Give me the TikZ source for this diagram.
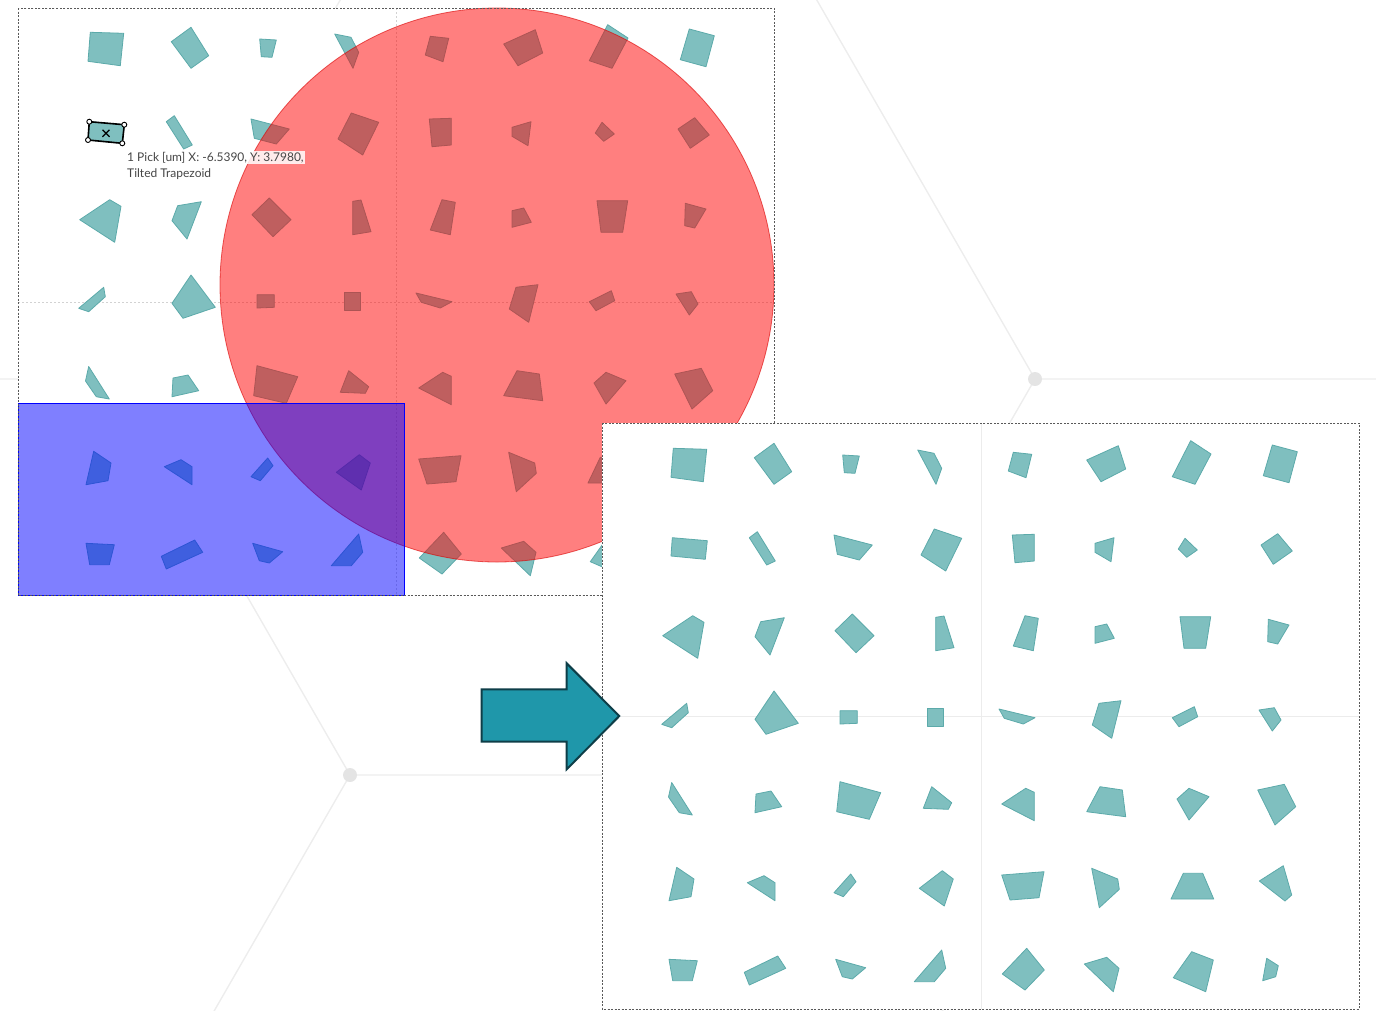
\documentclass[tikz,border=0pt]{standalone}
\usepackage{fontspec}
\newfontfamily\pickfont{Lato}
\usetikzlibrary{positioning}
\definecolor{tealfill}{RGB}{127,191,191}
\definecolor{tealline}{RGB}{92,170,170}
\definecolor{hexline}{RGB}{237,237,237}
\definecolor{hexdot}{RGB}{228,228,228}
\definecolor{arrowfill}{RGB}{31,151,170}
\definecolor{arrowline}{RGB}{14,62,72}
\definecolor{labelgray}{RGB}{70,70,70}

\newcommand{\drawpieces}{%
\draw[piece] (673.3,448.3)--(706.7,449.3)--(703.3,481.7)--(671,477.3)--cycle;
\draw[piece] (754.3,457.7)--(774,443.3)--(791.7,471.7)--(774,484.3)--cycle;
\draw[piece] (842.7,455)--(859.3,456)--(855,473.3)--(844.3,472.7)--cycle;
\draw[piece] (917.7,450)--(934,453.3)--(941.7,468.3)--(936,484.3)--cycle;
\draw[piece] (1013.3,452.3)--(1031.7,454.3)--(1026,477.7)--(1008.3,471)--cycle;
\draw[piece] (1086.7,460)--(1118.3,445.7)--(1125.7,469)--(1101,481.7)--cycle;
\draw[piece] (1190.7,440.7)--(1211,454)--(1195,484.3)--(1172.3,476.7)--cycle;
\draw[piece] (1272.3,445)--(1297.3,451.7)--(1289,482.7)--(1263.3,475.7)--cycle;
%
\draw[piece] (672.3,537.7)--(707.3,540.7)--(705.3,559.3)--(671,556)--cycle;
\draw[piece] (749.3,537.7)--(757.3,531.7)--(775.3,561)--(766.7,565)--cycle;
\draw[piece] (834,535)--(872.3,545)--(859.3,560)--(837.3,554.3)--cycle;
\draw[piece] (934.3,529)--(961.7,538.3)--(945.7,571)--(921,555)--cycle;
\draw[piece] (1012.3,535)--(1034.3,534.3)--(1034.3,561)--(1015,562.7)--cycle;
\draw[piece] (1095,543.3)--(1114,537.7)--(1111,561.7)--(1095,552.3)--cycle;
\draw[piece] (1178.3,549)--(1185,538.3)--(1197.3,550)--(1186.7,557.3)--cycle;
\draw[piece] (1261,545)--(1277.7,533.7)--(1292.3,551)--(1273.3,564.3)--cycle;
%
\draw[piece] (662.7,635.7)--(692.7,615.7)--(704,622.3)--(697.7,658.3)--cycle;
\draw[piece] (755,636.7)--(760.7,621.7)--(784.3,617.7)--(770,655)--cycle;
\draw[piece] (835,630.7)--(852.3,614)--(874,635.7)--(856,652.7)--cycle;
\draw[piece] (935.7,617.3)--(944,616)--(954,647.7)--(935.7,650.7)--cycle;
\draw[piece] (1025,615.7)--(1038.3,618.3)--(1033.3,650.7)--(1013.3,646)--cycle;
\draw[piece] (1095,626.7)--(1106.7,624)--(1114.3,638.3)--(1095,643.3)--cycle;
\draw[piece] (1180,616.7)--(1210.7,616.7)--(1205.7,648.3)--(1184,648.3)--cycle;
\draw[piece] (1268.3,619.3)--(1289,625)--(1277.7,644)--(1267.7,641.7)--cycle;
%
\draw[piece] (661.7,724.3)--(686.7,703.3)--(688.3,712.7)--(671.7,727.7)--cycle;
\draw[piece] (755,719.3)--(774,691)--(798.3,723.3)--(766,734.3)--cycle;
\draw[piece] (840,710.7)--(857.3,710.7)--(857.3,723.3)--(840,724)--cycle;
\draw[piece] (927.7,708.3)--(943.3,708.3)--(943.3,726.7)--(927.7,726.7)--cycle;
\draw[piece] (999,709)--(1035,717.7)--(1023.3,724)--(1004.3,718.3)--cycle;
\draw[piece] (1099,703.3)--(1121,700.7)--(1111.7,738.3)--(1092.3,725)--cycle;
\draw[piece] (1172.3,717.7)--(1194.3,706.7)--(1197.7,716.7)--(1179,726.7)--cycle;
\draw[piece] (1259,710)--(1274.3,707.7)--(1281,720)--(1272.3,731)--cycle;
%
\draw[piece] (671.7,782.5)--(668.5,797)--(679.3,812.7)--(692.3,815)--cycle;
\draw[piece] (756,794)--(771,791)--(781.7,806.7)--(755,812.7)--cycle;
\draw[piece] (840,781.7)--(880.7,792.7)--(869.3,819.3)--(836.7,811.7)--cycle;
\draw[piece] (931.7,786.7)--(951.7,802.7)--(948.3,809.3)--(923.3,808.3)--cycle;
\draw[piece] (1001.7,804)--(1025.7,788.3)--(1034.3,792.3)--(1034.3,820.7)--cycle;
\draw[piece] (1100,786.7)--(1122.3,790)--(1125.7,816.7)--(1086.7,811.7)--cycle;
\draw[piece] (1177,799)--(1189,788.3)--(1209,796.7)--(1189,820)--cycle;
\draw[piece] (1257.7,790)--(1284.3,784.3)--(1295.7,806.7)--(1275,825)--cycle;
%
\draw[piece] (676.7,867.3)--(694,879)--(691,896.7)--(669,900.7)--cycle;
\draw[piece] (747.3,882.7)--(764,875.7)--(775,882.7)--(775,900.7)--cycle;
\draw[piece] (834,892.7)--(850.7,874)--(856,881.7)--(843.3,896.7)--cycle;
\draw[piece] (919.3,888.3)--(942.3,870.7)--(953.3,879)--(944.3,906)--cycle;
\draw[piece] (1001.7,875)--(1044,871.7)--(1039,897.7)--(1010,900)--cycle;
\draw[piece] (1091.7,868.3)--(1117.7,879)--(1119.3,889.3)--(1099.3,907.7)--cycle;
\draw[piece] (1183.3,873.3)--(1202.7,873.3)--(1213.7,899)--(1171,899)--cycle;
\draw[piece] (1259.3,881)--(1283.3,865.7)--(1291.7,895)--(1285,901)--cycle;
%
\draw[piece] (669,959.3)--(697.3,960.7)--(692.3,980.7)--(672.7,980.7)--cycle;
\draw[piece] (744.3,972.3)--(777.7,956)--(785.7,968.3)--(749.3,985)--cycle;
\draw[piece] (835.7,959.3)--(865.7,967.7)--(852.3,979)--(842.3,976.7)--cycle;
\draw[piece] (914.3,981.7)--(941.7,950)--(945.7,968.3)--(934.3,981.7)--cycle;
\draw[piece] (1002.3,974)--(1026.7,948.3)--(1044.3,970)--(1025,990)--cycle;
\draw[piece] (1084.3,964)--(1106.7,957.3)--(1119,968.3)--(1113.3,991.7)--cycle;
\draw[piece] (1173.3,977.7)--(1191.7,951.7)--(1213.3,960)--(1205.7,991.7)--cycle;
\draw[piece] (1266.7,958.3)--(1278.3,965.7)--(1275.7,976.7)--(1262.7,980.7)--cycle;
}

\begin{document}
\begin{tikzpicture}[x=1pt,y=-1pt,
piece/.style={fill=tealfill,draw=tealline,line width=.8pt,line join=round},
hexedge/.style={draw=hexline,line width=1.4pt},
hexdot/.style={fill=hexdot},
panel/.style={fill=white,draw=gray!70!black,line width=.7pt,dash pattern=on 2pt off 1.5pt},
midline/.style={draw=gray!35,line width=.6pt,dash pattern=on 2pt off 2pt},
handle/.style={circle,draw=black,fill=white,line width=.9pt,inner sep=0pt,minimum size=5pt},
picklabel/.style={font=\pickfont\fontsize{12}{14}\selectfont,text=labelgray,inner sep=1pt,anchor=west}]
\useasboundingbox (0,0) rectangle (1376,1010);
\clip (0,0) rectangle (1376,1010);

\draw[hexedge] (807,-17)--(1035,379)--(1500,379);
\draw[hexedge] (1035,379)--(807,775)--(350,775)--(122,379)--(-340,379);
\draw[hexedge] (122,379)--(350,-17);
\draw[hexedge] (807,775)--(1035,1171);
\draw[hexedge] (350,775)--(122,1171);
\fill[hexdot] (1035,379) circle[radius=7pt];
\fill[hexdot] (350,775) circle[radius=7pt];

\path[panel] (18,8) rectangle (774,595);
\draw[midline] (396,8)--(396,595);
\draw[midline] (18,302)--(774,302);
\begin{scope}[shift={(-583,-416)}]
\drawpieces
\end{scope}
\fill[red,fill opacity=.5] (497,285) circle[radius=277pt];
\draw[red!85!black,draw opacity=.6,line width=.8pt] (497,285) circle[radius=277pt];
\draw[blue,fill=blue,fill opacity=.5,line width=.8pt] (18,403) rectangle (404,595);
\draw[panel,fill=none] (18,8) rectangle (774,595);

\draw[black,line width=1.6pt,line join=round] (89.3,121.7)--(124.3,124.7)--(122.3,143.3)--(88,140)--cycle;
\node[handle] (h1) at (89.3,121.7) {};
\node[handle] (h2) at (124.3,124.7) {};
\node[handle] (h3) at (122.3,143.3) {};
\node[handle] (h4) at (88,140) {};
\draw[black,line width=1.3pt] (102.5,129.8)--(109.5,136.8) (102.5,136.8)--(109.5,129.8);
\node[picklabel,fill=white,fill opacity=.85,text opacity=1] (pick) at (126,157.5) {1 Pick [um] X: -6.5390, Y: 3.7980,};
\node[picklabel] (shape) at (126,174.5) {Tilted Trapezoid};

\path[panel] (602,423) rectangle (1359,1009);
\draw[draw=gray!15,line width=.8pt] (981,423)--(981,1009) (602,716)--(1359,716);
\drawpieces
\draw[panel,fill=none] (602,423) rectangle (1359,1009);

\draw[fill=arrowfill,draw=arrowline,line width=2pt,line join=miter]
(481.7,689.3)--(566.7,689.3)--(566.7,663.3)--(619.3,716)--(566.7,769.3)--(566.7,741.7)--(481.7,741.7)--cycle;
\end{tikzpicture}
\end{document}
